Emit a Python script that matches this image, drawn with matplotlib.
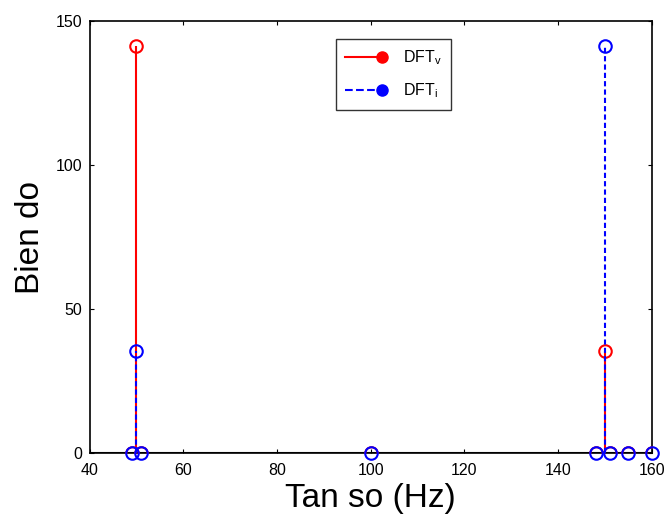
import numpy as np
import matplotlib
matplotlib.use('Agg')
from matplotlib import pyplot as plt
from matplotlib.lines import Line2D
from matplotlib.legend_handler import HandlerLine2D


# data
freq   = [49, 50, 51, 100, 148, 150, 151, 155, 160]
dft_v  = [0, 141.4, 0, 0, 0, 35.4, 0, 0, 0]
dft_i  = [0, 35.4, 0, 0, 0, 141.4, 0, 0, 0]


class StemLegend(HandlerLine2D):
	# line with the marker at the right end, like MATLAB
	def create_artists(self, legend, orig, xd, yd, w, h, fs, trans):
		y  = (h - yd) / 2.0
		ln = Line2D([-xd, w - xd], [y, y], color=orig.get_color(), ls=orig.get_linestyle(), lw=orig.get_linewidth())
		mk = Line2D([w - xd], [y], marker='o', ls='none', color=orig.get_color(), ms=8, mfc=orig.get_color())
		ln.set_transform(trans); mk.set_transform(trans)
		return [ln, mk]


plt.rcParams['font.family'] = ['Liberation Sans', 'DejaVu Sans']
plt.rcParams['mathtext.fontset'] = 'custom'
plt.rcParams['mathtext.rm'] = 'Liberation Sans'
fig = plt.figure(figsize=(6.64, 5.15), dpi=100)
ax  = fig.add_axes([0.1348, 0.1204, 0.847, 0.838])

c0,c1 = 'red', 'blue'
ms    = 9
dash  = (0, (2.5, 1.5))

ax.axhline(0, color='k', lw=1.5, zorder=1)
ax.vlines(freq, 0, dft_v, color=c0, lw=1.5, zorder=2)
ax.plot(freq, dft_v, 'o', ms=ms, mfc='none', mec=c0, mew=1.5, zorder=3)
ax.vlines(freq, 0, dft_i, color=c1, lw=1.5, linestyles=dash, zorder=4)
ax.plot(freq, dft_i, 'o', ms=ms, mfc='none', mec=c1, mew=1.5, zorder=5, clip_on=False)

ax.set_xlim(40, 160)
ax.set_ylim(0, 150)
ax.set_xticks(np.arange(40, 161, 20))
ax.set_yticks([0, 50, 100, 150])
ax.tick_params(direction='in', top=True, right=True, labelsize=11.5, length=3, width=0.8)
ax.tick_params(axis='x', pad=7)
ax.tick_params(axis='y', pad=5)
for s in ax.spines.values():
	s.set_linewidth(1.2)

ax.set_xlabel('Tan so (Hz)', size=24, labelpad=4)
ax.set_ylabel('Bien do', size=24, labelpad=7)

h0 = Line2D([], [], color=c0, lw=1.5, ls='-')
h1 = Line2D([], [], color=c1, lw=1.5, ls=dash)
leg = ax.legend([h0, h1], ['DFT$_\\mathrm{v}$', 'DFT$_\\mathrm{i}$'], loc='upper left',
		bbox_to_anchor=(0.4375, 0.96), fontsize=11.5, fancybox=False, edgecolor='k',
		handler_map={h0: StemLegend(), h1: StemLegend()}, handlelength=2.3, handletextpad=1.3,
		borderpad=0.6, labelspacing=0.9, borderaxespad=0)
leg.get_frame().set_linewidth(1.0)

plt.savefig('out.png', dpi=100)
